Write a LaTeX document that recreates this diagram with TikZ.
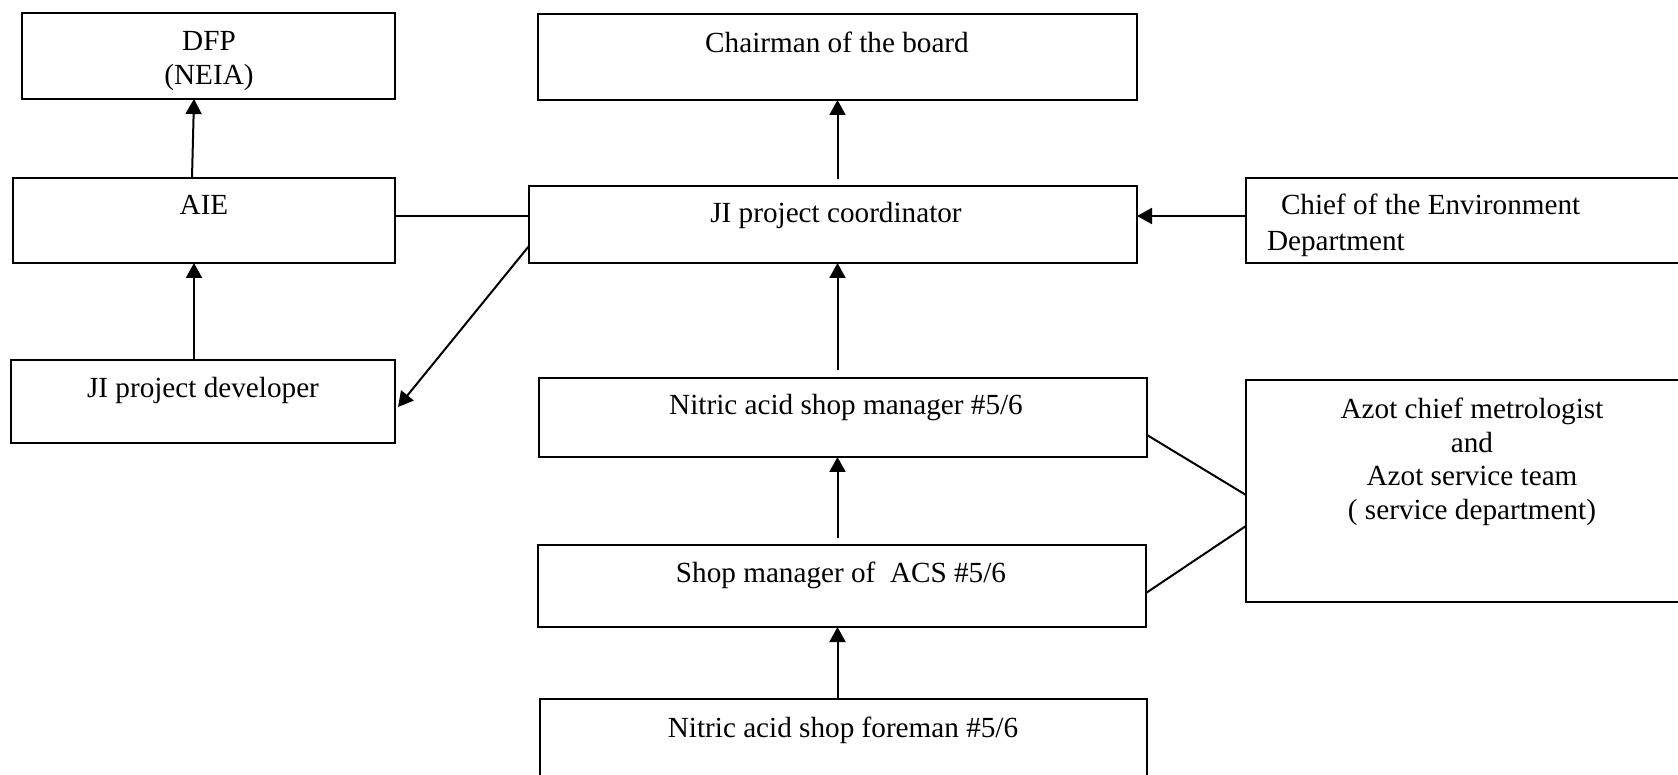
\documentclass[tikz,border=0pt]{standalone}
\usepackage{fontspec}
\setmainfont{Liberation Serif}
\usetikzlibrary{arrows.meta,calc}
\begin{document}
\begin{tikzpicture}[x=0.5pt,y=-0.5pt,
  box/.style={draw=black, line width=1pt, rectangle, inner sep=0pt, outer sep=0pt},
  txt/.style={inner sep=0pt, outer sep=0pt, font=\fontsize{14.6}{16.5}\selectfont},
  con/.style={line width=1pt, draw=black},
  arr/.style={con, -{Triangle[length=7.5pt,width=8pt]}}]
\fill[white] (0,0) rectangle (1678,775);
\clip (0,0) rectangle (1678,775);
% boxes
\node[box, minimum width=186.5pt, minimum height=43pt] (dfp) at (208.5,56) {};
\node[box, minimum width=191pt, minimum height=42.5pt] (aie) at (204,220.5) {};
\node[box, minimum width=192pt, minimum height=41.5pt] (dev) at (203,401.5) {};
\node[box, minimum width=299.5pt, minimum height=43pt] (chair) at (837.5,57) {};
\node[box, minimum width=304pt, minimum height=38.5pt] (coord) at (833,224.5) {};
\node[box, minimum width=304pt, minimum height=39.5pt] (mgr) at (843,417.5) {};
\node[box, minimum width=304pt, minimum height=41pt] (acs) at (842,586) {};
\node[box, minimum width=303.5pt, minimum height=50.5pt] (fore) at (843.5,749.5) {};
\node[box, minimum width=227pt, minimum height=42.5pt] (env) at (1473,220.5) {};
\node[box, minimum width=227pt, minimum height=111pt] (azot) at (1473,491) {};
% texts
\node[txt, anchor=base] (dfpt1) at (209,51) {DFP};
\node[txt, anchor=base] (dfpt2) at (209,85) {(NEIA)};
\node[txt, anchor=base] (chairt) at (837,53) {Chairman of the board};
\node[txt, anchor=base] (aiet) at (204,215) {AIE};
\node[txt, anchor=base] (coordt) at (836,223) {JI project coordinator};
\node[txt, anchor=base] (devt) at (203,398) {JI project developer};
\node[txt, anchor=base] (mgrt) at (846,415) {Nitric acid shop manager \#5/6};
\node[txt, anchor=base] (acst) at (841,582) {Shop manager of\ \ ACS \#5/6};
\node[txt, anchor=base] (foret) at (843,737) {Nitric acid shop foreman \#5/6};
\node[txt, anchor=base west] (envt1) at (1281,215) {Chief of the Environment};
\node[txt, anchor=base west] (envt2) at (1267,251) {Department};
\node[txt, anchor=base] (azt1) at (1472,419) {Azot chief metrologist};
\node[txt, anchor=base] (azt2) at (1472,452) {and};
\node[txt, anchor=base] (azt3) at (1472,486) {Azot service team};
\node[txt, anchor=base] (azt4) at (1472,519) {( service department)};
% connectors
\draw[arr] ([xshift=-6pt]aie.north) -- ([xshift=-7.25pt]dfp.south);
\draw[arr] ([xshift=-4.5pt]dev.north) -- ([xshift=-4.5pt]dev.north |- aie.south);
\draw[con] ([yshift=2.25pt]aie.east) -- ([yshift=2.25pt]aie.east -| coord.west);
\draw[arr] ([yshift=-10.75pt]coord.west) -- ([xshift=1.5pt,yshift=-2.75pt]dev.east);
\draw[arr, shorten <=3.5pt] (chair.south |- coord.north) -- (chair.south);
\draw[arr, shorten <=4pt] (chair.south |- mgr.north) -- (chair.south |- coord.south);
\draw[arr, shorten <=3.5pt] (chair.south |- acs.north) -- (chair.south |- mgr.south);
\draw[arr] (chair.south |- fore.north) -- (chair.south |- acs.south);
\draw[arr] ([yshift=2.25pt]env.west) -- ([yshift=2.25pt]env.west -| coord.east);
\draw[con] ([yshift=-8.75pt]mgr.east) -- ([yshift=-2pt]azot.west);
\draw[con] ([yshift=-3.5pt]acs.east) -- ([yshift=-17.5pt]azot.west);
\end{tikzpicture}
\end{document}
